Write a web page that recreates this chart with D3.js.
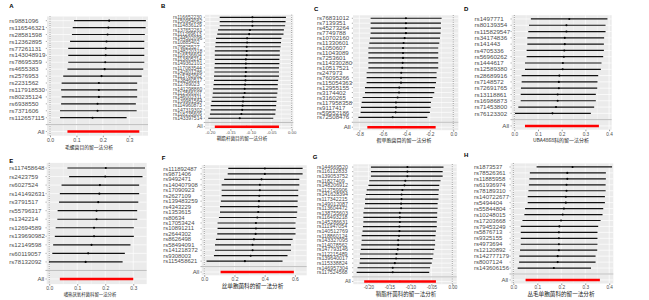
<!DOCTYPE html>
<html>
<head>
<meta charset="utf-8">
<script src="https://cdn.jsdelivr.net/npm/d3@7"></script>
<style>
  body { margin: 0; background: #fff; }
  svg { display: block; font-family: "Liberation Sans", Arial, sans-serif; }
</style>
</head>
<body>
<svg id="chart" width="649" height="300"></svg>
<script>
// ---- data: leave-one-out estimates ----
// each "all" array is [estimate, lower, upper]
const aTitle = "毛螺菌目的留一法分析";
const aSnp = ["rs9881096","rs116546321","rs28581598","rs12362895","rs77261131","rs143048919","rs78695359","rs4655383","rs2576953","rs2231562","rs117918530","rs80235124","rs6938550","rs7371606","rs112657115"];
const aB  = [0.224,0.221,0.218,0.214,0.211,0.211,0.209,0.207,0.195,0.185,0.185,0.185,0.180,0.180,0.161];
const aLo = [0.091,0.086,0.083,0.076,0.069,0.069,0.069,0.066,0.050,0.044,0.042,0.044,0.042,0.038,0.038];
const aHi = [0.363,0.362,0.359,0.357,0.357,0.357,0.357,0.353,0.347,0.330,0.330,0.330,0.325,0.328,0.290];
const aAll = [0.202, 0.066, 0.338];
const aTicks = [0, 0.1, 0.2, 0.3];

const bTitle = "鞘脂杆菌目的留一法分析";
const bSnp = ["rs116652230","rs150954062","rs114836129","rs137652261","rs111299613","rs144502096","rs10885402","rs79825527","rs148220318","rs116536604","rs113805214","rs149362101","rs117083544","rs142601286","rs115782062","rs138460517","rs12789023","rs141298860","rs112566107","rs146002311","rs139981564","rs114960873","rs147319302","rs118235609","rs143397514"];
const bB  = [-0.096,-0.096,-0.096,-0.102,-0.104,-0.109,-0.109,-0.110,-0.110,-0.110,-0.112,-0.112,-0.112,-0.112,-0.113,-0.113,-0.114,-0.115,-0.115,-0.118,-0.119,-0.120,-0.121,-0.123,-0.127];
const bLo = [-0.176,-0.176,-0.176,-0.180,-0.182,-0.185,-0.186,-0.187,-0.188,-0.188,-0.188,-0.188,-0.189,-0.189,-0.190,-0.190,-0.191,-0.192,-0.193,-0.194,-0.196,-0.198,-0.198,-0.200,-0.204];
const bHi = [-0.014,-0.015,-0.016,-0.019,-0.020,-0.025,-0.026,-0.027,-0.029,-0.029,-0.030,-0.030,-0.031,-0.031,-0.031,-0.033,-0.034,-0.034,-0.035,-0.037,-0.037,-0.038,-0.039,-0.040,-0.045];
const bAll = [-0.110, -0.188, -0.031];
const bTicks = [-0.2, -0.15, -0.1, -0.05, 0];

const cTitle = "假单胞菌目的留一法分析";
const cSnp = ["rs76831012","rs7139351","rs45273264","rs7749788","rs10702160","rs11330601","rs1050607","rs11043089","rs7253601","rs114330280","rs10517521","rs247973","rs76095266","rs115054363","rs12955155","rs3174402","rs3160265","rs117958358","rs9117417","rs59552186","rs72508476"];
const cB  = [-0.403,-0.403,-0.403,-0.403,-0.414,-0.423,-0.428,-0.428,-0.428,-0.431,-0.434,-0.443,-0.445,-0.445,-0.460,-0.462,-0.474,-0.488,-0.488,-0.491,-0.516];
const cLo = [-0.704,-0.704,-0.704,-0.704,-0.709,-0.715,-0.723,-0.723,-0.723,-0.723,-0.723,-0.738,-0.738,-0.738,-0.752,-0.752,-0.772,-0.780,-0.786,-0.789,-0.808];
const cHi = [-0.099,-0.105,-0.105,-0.108,-0.113,-0.119,-0.128,-0.128,-0.128,-0.128,-0.128,-0.142,-0.142,-0.147,-0.156,-0.162,-0.176,-0.190,-0.193,-0.199,-0.221];
const cAll = [-0.440, -0.732, -0.150];
const cTicks = [-0.8, -0.6, -0.4, -0.2, 0];

const dTitle = "UBA4868科的留一法分析";
const dSnp = ["rs1497771","rs80139354","rs115829547","rs34174836","rs141443","rs4705336","rs56960262","rs1444617","rs12589380","rs28689916","rs7148572","rs72691765","rs13118861","rs16986873","rs71453800","rs76123302"];
const dB  = [0.232,0.220,0.220,0.213,0.213,0.211,0.209,0.205,0.204,0.190,0.188,0.188,0.183,0.183,0.176,0.161];
const dLo = [0.070,0.062,0.059,0.055,0.055,0.052,0.052,0.045,0.045,0.031,0.031,0.028,0.027,0.027,0.017,0.003];
const dHi = [0.393,0.385,0.385,0.379,0.378,0.378,0.375,0.368,0.365,0.354,0.351,0.350,0.344,0.344,0.337,0.323];
const dAll = [0.200, 0.045, 0.357];
const dTicks = [0, 0.1, 0.2, 0.3, 0.4];

const eTitle = "嗜热厌氧杆菌科留一法分析";
const eSnp = ["rs117458648","rs2423759","rs6027524","rs141492631","rs3791517","rs55796317","rs1342214","rs12694589","rs139690982","rs12149598","rs60119057","rs78132092"];
const eB  = [0.202,0.200,0.181,0.179,0.175,0.169,0.169,0.160,0.160,0.151,0.139,0.130];
const eLo = [0.065,0.071,0.044,0.038,0.035,0.030,0.029,0.023,0.020,0.014,0.011,-0.001];
const eHi = [0.342,0.333,0.321,0.321,0.318,0.314,0.314,0.302,0.302,0.290,0.270,0.262];
const eAll = [0.168, 0.038, 0.300];
const eTicks = [0, 0.1, 0.2, 0.3];

const fTitle = "丝单胞菌科的留一法分析";
const fSnp = ["rs111892487","rs9871406","rs9492471","rs140407908","rs17090923","rs2627109","rs139483259","rs4343229","rs1353615","rs80634","rs17053424","rs10891211","rs2644302","rs8626498","rs58494091","rs141218372","rs9308003","rs115458621"];
const fB  = [0.401,0.401,0.379,0.368,0.368,0.364,0.362,0.360,0.357,0.351,0.342,0.342,0.340,0.329,0.320,0.320,0.307,0.269];
const fLo = [0.159,0.155,0.132,0.115,0.115,0.115,0.110,0.104,0.104,0.097,0.088,0.088,0.086,0.077,0.071,0.071,0.064,0.015];
const fHi = [0.651,0.651,0.629,0.629,0.622,0.622,0.618,0.618,0.615,0.611,0.604,0.604,0.604,0.585,0.574,0.574,0.551,0.518];
const fAll = [0.350, 0.108, 0.593];
const fTicks = [0, 0.2, 0.4, 0.6];

const gTitle = "鞘脂杆菌科的留一法分析";
const gSnp = ["rs144669520","rs116112833","rs139053752","rs11827409","rs148206912","rs112759906","rs141628394","rs117342215","rs149012087","rs113604472","rs138755603","rs116493218","rs145286631","rs111947054","rs140512769","rs118860124","rs143327095","rs114078562","rs147793146","rs112215489","rs139640017","rs115338824","rs146957304","rs117524568"];
const gB  = [-0.107,-0.107,-0.107,-0.112,-0.114,-0.119,-0.121,-0.121,-0.122,-0.122,-0.125,-0.125,-0.125,-0.126,-0.126,-0.127,-0.129,-0.129,-0.130,-0.133,-0.134,-0.137,-0.142,-0.142];
const gLo = [-0.194,-0.194,-0.194,-0.198,-0.200,-0.204,-0.206,-0.208,-0.208,-0.210,-0.212,-0.212,-0.212,-0.213,-0.214,-0.216,-0.216,-0.217,-0.218,-0.220,-0.220,-0.221,-0.226,-0.228];
const gHi = [-0.021,-0.023,-0.023,-0.028,-0.031,-0.032,-0.033,-0.033,-0.035,-0.035,-0.036,-0.036,-0.037,-0.037,-0.039,-0.040,-0.041,-0.041,-0.043,-0.045,-0.047,-0.049,-0.053,-0.055];
const gAll = [-0.125, -0.210, -0.039];
const gTicks = [-0.2, -0.15, -0.1, -0.05, 0];

const hTitle = "丛毛单胞菌科的留一法分析";
const hSnp = ["rs1873537","rs78526361","rs11885958","rs61936974","rs78189310","rs140722677","rs5494404","rs55844804","rs10248015","rs17203668","rs79453249","rs5876713","rs9325155","rs4973694","rs12120892","rs142777179","rs8007124","rs143606156"];
const hB  = [0.247,0.225,0.225,0.222,0.222,0.219,0.219,0.211,0.206,0.199,0.192,0.190,0.190,0.190,0.190,0.185,0.185,0.169];
const hLo = [0.097,0.069,0.067,0.065,0.063,0.060,0.060,0.049,0.046,0.038,0.031,0.031,0.031,0.031,0.028,0.025,0.024,0.018];
const hHi = [0.412,0.386,0.386,0.385,0.385,0.382,0.382,0.375,0.372,0.364,0.354,0.351,0.351,0.351,0.350,0.343,0.343,0.324];
const hAll = [0.205, 0.051, 0.361];
const hTicks = [0, 0.1, 0.2, 0.3, 0.4];

// ---- layout of the eight sub-figures ----
const panels = [
  {id:"A", snp:aSnp, b:aB, lo:aLo, hi:aHi, all:aAll, title:aTitle, ticks:aTicks, fmt:".1f",
   x0:47, x1:148, y0:16.5, y1:135.7, dom:[-0.0114,0.371], tickY:142, tickFs:5.2,
   titleX:89, titleY:148.5, titleFs:4.8, labelX:9.3, labelFs:6.2, letter:[9.3,7.5]},
  {id:"B", snp:bSnp, b:bB, lo:bLo, hi:bHi, all:bAll, title:bTitle, ticks:bTicks, fmt:".2f",
   x0:205, x1:293.3, y0:14.8, y1:129.2, dom:[-0.212,0.004], tickY:134.2, tickFs:4.3,
   titleX:242, titleY:140.2, titleFs:4.6, labelX:173, labelFs:5, letter:[161,7.5]},
  {id:"C", snp:cSnp, b:cB, lo:cLo, hi:cHi, all:cAll, title:cTitle, ticks:cTicks, fmt:".1f",
   x0:353, x1:458.3, y0:15.3, y1:130.2, dom:[-0.854,0.043], tickY:135.6, tickFs:4.8,
   titleX:404, titleY:141.8, titleFs:5, labelX:317, labelFs:6.1, letter:[314,10.7]},
  {id:"D", snp:dSnp, b:dB, lo:dLo, hi:dHi, all:dAll, title:dTitle, ticks:dTicks, fmt:".1f",
   x0:511.7, x1:611.7, y0:15.2, y1:129.7, dom:[-0.011,0.411], tickY:136.3, tickFs:4.7,
   titleX:561, titleY:142.3, titleFs:5, labelX:474.5, labelFs:6.2, letter:[464,10.7]},
  {id:"E", snp:eSnp, b:eB, lo:eLo, hi:eHi, all:eAll, title:eTitle, ticks:eTicks, fmt:".1f",
   x0:46.7, x1:146.7, y0:162.9, y1:284.1, dom:[-0.009,0.348], tickY:290, tickFs:5,
   titleX:90, titleY:296, titleFs:4.4, labelX:9.3, labelFs:6.1, letter:[9.3,163]},
  {id:"F", snp:fSnp, b:fB, lo:fLo, hi:fHi, all:fAll, title:fTitle, ticks:fTicks, fmt:".1f",
   x0:201.7, x1:306.7, y0:165.2, y1:275.3, dom:[-0.017,0.678], tickY:281.5, tickFs:5,
   titleX:252.5, titleY:287.5, titleFs:5.6, labelX:163.3, labelFs:5.9, letter:[161.7,159.7]},
  {id:"G", snp:gSnp, b:gB, lo:gLo, hi:gHi, all:gAll, title:gTitle, ticks:gTicks, fmt:".2f",
   x0:353.3, x1:456.7, y0:164.3, y1:284.2, dom:[-0.236,0.0105], tickY:289.3, tickFs:4.5,
   titleX:406, titleY:296, titleFs:5.5, labelX:317, labelFs:5.3, letter:[312.7,158.7]},
  {id:"H", snp:hSnp, b:hB, lo:hLo, hi:hHi, all:hAll, title:hTitle, ticks:hTicks, fmt:".1f",
   x0:510.7, x1:613.3, y0:163.4, y1:283.5, dom:[-0.011,0.417], tickY:289.3, tickFs:4.7,
   titleX:561, titleY:296, titleFs:5.6, labelX:474, labelFs:6, letter:[464,157.3]}
];

const svg = d3.select("#chart");

panels.forEach(p => {
  const g = svg.append("g").attr("class", "panel-" + p.id);
  const x = d3.scaleLinear().domain(p.dom).range([p.x0, p.x1]);
  // SNP rows, then a blank separator row, then the "All" row (same order as the R plot)
  const rows = [...p.snp, "", "All"];
  const y = d3.scalePoint().domain(rows).range([p.y0, p.y1]).padding(0.6);
  const fmt = d => d3.format(p.fmt)(d).replace("\u2212", "-");

  // panel background
  g.append("rect")
    .attr("x", p.x0).attr("y", p.y0)
    .attr("width", p.x1 - p.x0).attr("height", p.y1 - p.y0)
    .attr("fill", "#EBEBEB");

  // minor vertical grid
  const step = p.ticks[1] - p.ticks[0];
  const minor = d3.range(p.ticks[0] - step / 2, p.dom[1], step)
    .filter(v => v > p.dom[0] && v < p.dom[1]);
  g.selectAll(".minor").data(minor).join("line")
    .attr("x1", d => x(d)).attr("x2", d => x(d))
    .attr("y1", p.y0).attr("y2", p.y1)
    .attr("stroke", "#fff").attr("stroke-width", 0.35);

  // major vertical grid
  g.selectAll(".major").data(p.ticks).join("line")
    .attr("x1", d => x(d)).attr("x2", d => x(d))
    .attr("y1", p.y0).attr("y2", p.y1)
    .attr("stroke", "#fff").attr("stroke-width", 0.7);

  // horizontal grid, one per row
  g.selectAll(".hgrid").data(rows).join("line")
    .attr("x1", p.x0).attr("x2", p.x1)
    .attr("y1", d => y(d)).attr("y2", d => y(d))
    .attr("stroke", "#fff").attr("stroke-width", 0.7);

  // dotted zero line
  g.append("line")
    .attr("x1", x(0)).attr("x2", x(0))
    .attr("y1", p.y0).attr("y2", p.y1)
    .attr("stroke", "#000").attr("stroke-width", 0.6)
    .attr("stroke-dasharray", "0.6,1.6");

  // grey separator at the blank row
  g.append("line")
    .attr("x1", p.x0).attr("x2", p.x1)
    .attr("y1", y("")).attr("y2", y(""))
    .attr("stroke", "#BEBEBE").attr("stroke-width", 1);

  // leave-one-out intervals
  g.selectAll(".ci").data(p.snp).join("line")
    .attr("x1", (d, i) => x(p.lo[i])).attr("x2", (d, i) => x(p.hi[i]))
    .attr("y1", d => y(d)).attr("y2", d => y(d))
    .attr("stroke", "#111").attr("stroke-width", 1.2);
  g.selectAll(".pt").data(p.snp).join("circle")
    .attr("cx", (d, i) => x(p.b[i])).attr("cy", d => y(d))
    .attr("r", 1.05).attr("fill", "#000");

  // overall estimate in red
  g.append("line")
    .attr("x1", x(p.all[1])).attr("x2", x(p.all[2]))
    .attr("y1", y("All")).attr("y2", y("All"))
    .attr("stroke", "#FF0000").attr("stroke-width", 2.6);
  g.append("circle")
    .attr("cx", x(p.all[0])).attr("cy", y("All"))
    .attr("r", 0.9).attr("fill", "#FF0000");

  // x axis
  const ax = g.append("g")
    .attr("transform", `translate(0,${p.y1})`)
    .call(d3.axisBottom(x).tickValues(p.ticks).tickFormat(fmt).tickSize(1.5)
      .tickPadding(p.tickY - p.y1 - 1.5 - 0.71 * p.tickFs));
  ax.select(".domain").remove();
  ax.selectAll(".tick line").attr("stroke", "#333").attr("stroke-width", 0.5);
  ax.selectAll(".tick text")
    .attr("fill", "#4D4D4D")
    .style("font-size", p.tickFs + "px")
    .style("font-family", "'Liberation Sans', Arial, sans-serif");

  // y labels (left aligned) and tiny ticks
  g.selectAll(".ytick").data(rows).join("line")
    .attr("x1", p.x0 - 1.2).attr("x2", p.x0)
    .attr("y1", d => y(d)).attr("y2", d => y(d))
    .attr("stroke", "#333").attr("stroke-width", 0.4);
  g.selectAll(".ylab").data(rows.filter(d => d !== "")).join("text")
    .attr("x", d => d === "All" ? p.x0 - 2.5 : p.labelX)
    .attr("y", d => y(d))
    .attr("dy", "0.35em")
    .attr("text-anchor", d => d === "All" ? "end" : "start")
    .attr("fill", "#4D4D4D")
    .style("font-size", p.labelFs + "px")
    .text(d => d);

  // x title and panel letter
  g.append("text")
    .attr("x", p.titleX).attr("y", p.titleY)
    .attr("text-anchor", "middle")
    .attr("fill", "#1A1A1A")
    .style("font-family", "'Noto Sans CJK SC', sans-serif")
    .style("font-size", p.titleFs + "px")
    .text(p.title);
  g.append("text")
    .attr("x", p.letter[0]).attr("y", p.letter[1])
    .attr("fill", "#000")
    .style("font-weight", "bold")
    .style("font-size", "6px")
    .text(p.id);
});
</script>
</body>
</html>
